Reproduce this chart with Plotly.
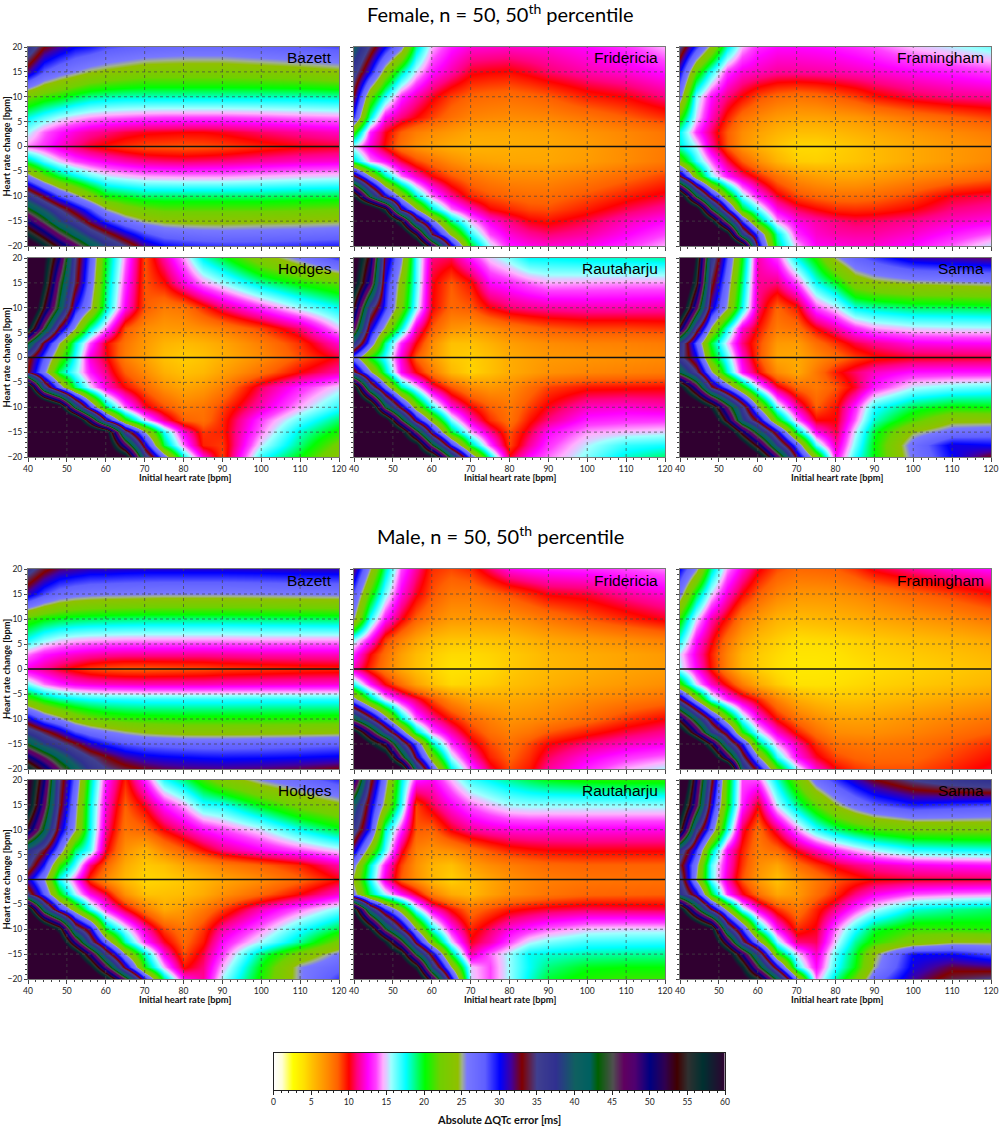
import plotly.graph_objects as go

# grid the values were read on
initial_hr = [40, 44, 48, 52, 56, 60, 65, 70, 75, 80, 85, 90, 100, 110, 120]
hr_change = [20, 15, 10, 6, 3, 0, -3, -6, -10, -12.5, -15, -17.5, -20]

x_ticks = [40, 50, 60, 70, 80, 90, 100, 110, 120]
y_ticks = [-20, -15, -10, -5, 0, 5, 10, 15, 20]

scale_values = [0, 1, 2.5, 4, 5, 7, 8.5, 10, 11, 12.5, 13.5, 14.5, 15, 15.5, 17.5, 20, 22, 24.4, 25, 25.7, 28, 30,
                31.5, 33, 35, 37.5, 40, 42, 43, 45, 46.5, 48, 50, 52, 53.5, 55, 57, 60]
scale_colors = ["#ffffff", "#ffffd8", "#ffff00", "#ffe000", "#ffc000", "#ff8c00", "#ff6000", "#ff0000", "#ff0080",
                "#ff00ff", "#ff40ff", "#ffb0ff", "#d8d0ff", "#a0ffff", "#00ffff", "#00ff00", "#70d000", "#90c000",
                "#a0b090", "#7878ff", "#6060ff", "#0000ff", "#4000a0", "#800000", "#404090", "#303090", "#106060",
                "#006060", "#006000", "#505050", "#600060", "#500070", "#000080", "#300050", "#400000", "#303030",
                "#003030", "#300030"]

female_bazett = [
    [37, 33, 31.5, 30, 29.5, 28.5, 28, 27.5, 27.2, 27, 27, 27, 27.5, 28, 28.5],
    [31.5, 28, 26.5, 25.5, 24.5, 24, 23.5, 23, 23, 23, 23, 23, 23.2, 23.5, 24],
    [22, 20.8, 20.2, 19.2, 18.5, 18.2, 18, 18, 18, 18, 18, 18, 18, 18, 18.2],
    [17.8, 16.5, 15.5, 14.8, 14.3, 14, 13.8, 13.6, 13.5, 13.5, 13.5, 13.5, 13.7, 14, 14.2],
    [15.5, 13.8, 12.8, 12, 11.4, 11, 10.5, 10.2, 10.1, 10, 10, 10.2, 10.8, 11.3, 11.8],
    [14, 13.2, 12, 11, 10.2, 9.7, 9.2, 8.8, 8.7, 8.6, 8.7, 8.9, 9.5, 10, 10.3],
    [19, 16.5, 14.8, 13.5, 12.8, 12.2, 11.6, 11.1, 10.9, 10.8, 10.9, 11, 11.4, 11.8, 12],
    [26, 22, 19.5, 17.8, 16.3, 15.3, 14.8, 14.4, 14.3, 14.2, 14.2, 14.2, 14.5, 14.8, 15],
    [37, 32.5, 28.5, 25.7, 23, 20.2, 19.6, 19, 19, 19, 19, 19, 19, 19.2, 19.3],
    [43.5, 39, 35, 31.5, 28.5, 25, 23, 22, 21.5, 21.5, 21.5, 21.5, 21.5, 21.7, 22],
    [50, 44.5, 39, 35.5, 32, 29, 26.5, 24.8, 24.2, 24, 24, 24, 24.2, 24.3, 24.5],
    [57, 51.5, 46, 41, 37, 34, 31, 28.5, 27.2, 26.8, 26.5, 26.4, 26.5, 26.7, 27],
    [64, 58, 52.5, 47.5, 42.5, 38, 35, 31.5, 30, 29.5, 29.2, 29, 29, 29.2, 29.5],
]
female_fridericia = [
    [40, 34.5, 30, 26, 18.5, 14.5, 12.8, 12, 11.9, 11.8, 11.9, 12, 12.5, 13.2, 14.5],
    [36, 30, 23.5, 18.5, 15, 12.7, 11.5, 10.2, 10, 9.9, 10.3, 10.8, 11.5, 12, 12.7],
    [32.5, 22, 17, 13, 11.5, 10.2, 9, 8.3, 8.1, 8, 8.2, 8.5, 9.5, 10, 11],
    [29, 18, 12.5, 11, 10, 9, 8, 7.3, 7.1, 7, 7.1, 7.2, 7.8, 8.5, 9.3],
    [21, 13, 10.2, 8.5, 7.5, 7, 6.5, 6, 6, 6, 6.1, 6.2, 6.7, 7.2, 7.8],
    [15, 12, 9.8, 7.8, 6.8, 6.2, 5.7, 5.5, 5.6, 5.7, 5.8, 5.9, 6.3, 7, 7.6],
    [18.5, 14.2, 12.7, 10.5, 9, 8, 7, 6.3, 6.1, 6, 6, 6, 6.4, 7, 7.7],
    [33.5, 25, 18.5, 14, 11.8, 10, 8.7, 7.8, 7.3, 7, 7, 7, 7.5, 8.2, 9],
    [58, 42, 31, 24, 18, 14, 11.3, 9.4, 8.7, 8.3, 8.1, 8.1, 8.8, 9.6, 10.3],
    [68, 64, 55, 32, 25, 18.3, 14, 11.8, 10, 9.4, 8.9, 8.8, 9.6, 10.6, 11.4],
    [72, 68, 65, 54, 35, 26.5, 18.7, 14.5, 12.2, 11, 10.1, 9.8, 10.6, 11.7, 12.5],
    [78, 73, 70, 65, 53, 33, 24, 17, 13.5, 12, 11.3, 10.9, 11.4, 12.4, 13.5],
    [85, 80, 75, 70, 65, 50, 31.5, 20, 15.3, 12.8, 12.3, 12, 12.3, 13.2, 14.5],
]
female_framingham = [
    [35, 29, 24, 18, 14.5, 13, 12.5, 12.5, 12.6, 12.8, 13.1, 13.5, 14.6, 15.3, 16],
    [30, 21.5, 17, 13.2, 12, 11.7, 11.3, 11.3, 11.4, 11.5, 11.7, 11.9, 12.4, 12.8, 13.3],
    [26, 16, 12.6, 11, 9.9, 8.8, 8.1, 7.8, 8, 8.5, 9, 9.7, 10.5, 11, 11.2],
    [21, 15, 11.8, 9.6, 8, 7.2, 6.5, 6.2, 6.2, 6.4, 6.6, 7, 7.8, 8.4, 9],
    [17.5, 13.3, 10.8, 8.6, 7, 6.2, 5.5, 5.1, 5.1, 5.3, 5.6, 5.9, 6.5, 7.1, 7.6],
    [18, 15.5, 11.5, 8.7, 6.8, 5.7, 4.8, 4.2, 4.2, 4.5, 4.8, 5.2, 5.9, 6.5, 7],
    [22, 17, 13.8, 10.7, 8.6, 7, 5.5, 4.6, 4.5, 4.7, 4.9, 5.2, 5.9, 6.5, 7.1],
    [33, 22.5, 16, 12.9, 11, 9.5, 7.9, 6.8, 6.3, 6, 6, 6.3, 7, 7.6, 8.2],
    [62, 43, 31, 22, 16, 12.8, 10.3, 8.9, 8.3, 8, 8, 8.2, 9, 10.2, 10.6],
    [68, 62, 44, 30.5, 20, 16.2, 12.2, 10.7, 10, 9.4, 9.3, 9.4, 10, 11, 11.4],
    [75, 68, 59, 43, 29, 20, 14.3, 12.2, 11.5, 11, 10.7, 10.8, 11.2, 11.8, 12.2],
    [80, 75, 70, 60, 38, 28, 18, 13.1, 11.9, 11.5, 11.4, 11.4, 11.9, 12.8, 13.7],
    [85, 80, 75, 70, 60, 31, 19, 14.5, 12.4, 12.2, 12, 12, 12.6, 13.8, 15.3],
]
female_hodges = [
    [75, 60, 50, 35, 28, 19.7, 14, 8.8, 11.4, 14.3, 17.8, 19.5, 23.2, 26, 29],
    [72, 58, 45, 34, 27, 19, 13.2, 8.7, 9.8, 12.2, 14.2, 15.5, 18.4, 20.3, 21.7],
    [68, 53, 42, 30, 25.3, 18.3, 12.4, 8.6, 7.5, 7.8, 9.3, 10.8, 13.1, 15.5, 17.5],
    [59, 44, 32.5, 25, 18.3, 14, 8.8, 7, 6.5, 6.6, 7, 7.5, 9, 11, 14.8],
    [43, 32, 25, 18, 13.5, 10, 7.8, 6.5, 5.5, 5.2, 5.5, 6, 7.5, 9.3, 12],
    [34, 28, 22, 17, 12, 10.2, 7.5, 6.2, 5, 4.6, 4.9, 5.6, 7, 8.8, 10.3],
    [33, 26, 19, 16, 12.8, 11, 8.5, 7, 5.6, 5, 5.3, 6.2, 8, 10, 11.5],
    [62, 37, 27, 19, 15, 12, 9.9, 8.3, 6.8, 6, 6.5, 7.5, 10.7, 13, 15],
    [75, 70, 62, 42, 29, 19, 13.8, 10.3, 8.8, 7.5, 7.8, 9, 11.7, 14.5, 17],
    [80, 75, 70, 65, 50, 32, 21, 15, 11.2, 8.5, 8, 9.4, 13.4, 16.4, 19],
    [85, 80, 75, 70, 65, 61, 36, 25, 17.3, 12.1, 9.2, 9.5, 14, 18, 20.5],
    [88, 82, 78, 72, 68, 64, 48, 31, 19.3, 13.8, 9.5, 9.1, 15.2, 18.8, 22.5],
    [90, 85, 80, 75, 70, 65, 61, 37, 27, 17.5, 12.2, 9, 17, 20, 24],
]
female_rautaharju = [
    [62, 52, 32, 25.8, 16.7, 11, 10.6, 12.8, 14.8, 16, 17.5, 17.6, 17.9, 18, 18.3],
    [60, 48, 30, 23.6, 16.6, 10.2, 8.6, 9.8, 12.5, 13.1, 13.8, 14.4, 14.3, 14.2, 14.2],
    [53, 36, 29, 22.5, 15.8, 10, 8.2, 8.6, 10, 10.8, 11.1, 11.3, 11.5, 11.5, 11.4],
    [47, 31, 24.5, 18, 11.8, 8.6, 6.8, 6.5, 7, 7.7, 8.2, 8.6, 9, 9, 9.2],
    [38, 27.5, 18.5, 13, 10, 7, 5, 5, 5.6, 6.3, 6.7, 7, 7.3, 7.4, 7.6],
    [27, 20, 16.8, 12, 8.5, 6.5, 4.8, 4.5, 5, 5.8, 6.2, 6.5, 6.7, 6.9, 7.1],
    [34, 25.5, 18.5, 12.5, 10, 7.7, 5.3, 4.4, 5, 5.8, 6.3, 6.8, 7.2, 7.4, 7.6],
    [60, 37, 27, 18.5, 15, 11, 8.7, 7.1, 6.6, 7, 8, 9, 9.7, 9.8, 9.9],
    [70, 63, 43, 32, 23, 17, 12.3, 10, 8.5, 7.7, 9, 10.2, 11.8, 12, 11.7],
    [75, 68, 62, 45, 31.5, 23.5, 16, 11.8, 9.3, 7.9, 9.7, 11, 12.9, 13.2, 13.3],
    [80, 75, 70, 60, 46, 31, 19.8, 14.5, 11.3, 8.8, 10.5, 12.5, 14.3, 14.7, 15],
    [82, 78, 72, 66, 60, 44, 29.5, 19, 13.4, 9, 11.3, 13.2, 15.3, 16.9, 17.3],
    [85, 80, 75, 70, 65, 60, 42, 27.5, 18, 10.3, 12.6, 13.9, 15.9, 18, 19],
]
female_sarma = [
    [75, 58, 37, 28.5, 20, 11.5, 13.2, 17.7, 20.5, 25, 27.5, 28.8, 31, 31.5, 32],
    [70, 55, 34, 26.5, 18.7, 11.3, 11, 13.5, 17.4, 19.7, 23, 24, 24.7, 25, 25.3],
    [64, 47, 31, 25, 17.5, 11, 8.3, 9.6, 13.4, 15, 17.6, 18.2, 18.9, 19, 19.2],
    [52, 35, 24.7, 17.5, 12, 9.8, 7.6, 8, 10, 11.5, 13.2, 14.3, 15, 15.2, 15.3],
    [37, 28, 19.5, 14.8, 11, 9, 6.5, 6.4, 8, 9.3, 10.5, 11.2, 12.2, 12.4, 12.5],
    [36, 30.5, 21, 16.5, 12, 8.9, 6, 5.9, 7, 8, 9, 9.7, 10.2, 10.3, 10.4],
    [42, 35, 25.5, 18, 12.8, 10, 7, 5.9, 7.7, 9.7, 10.8, 11.8, 12.7, 12.8, 12.8],
    [60, 48, 34, 27.5, 21, 15, 10.4, 8.2, 7.6, 8.7, 10.3, 12.8, 15.3, 16, 16.4],
    [70, 65, 58, 46, 36, 25, 16, 11.4, 8.5, 9.8, 13, 17, 19.3, 20.2, 20],
    [75, 70, 64, 52, 39, 32, 21, 14, 10, 10, 13.8, 18, 21.2, 24, 24],
    [80, 75, 70, 64, 52, 41.5, 31, 19, 12.5, 10.5, 15.2, 19.5, 24.5, 26.5, 27],
    [85, 80, 75, 70, 62, 52, 38, 27.5, 16.5, 11.5, 16, 20, 26.5, 30.5, 30],
    [90, 85, 80, 75, 70, 62, 48, 32, 23, 12.5, 17, 20, 26, 30, 33],
]
male_bazett = [
    [36, 33.5, 32, 31.5, 31, 31, 30.8, 30.7, 30.7, 30.7, 30.7, 30.7, 30.8, 31, 31],
    [31, 28.5, 27, 26.3, 26, 25.8, 25.7, 25.6, 25.5, 25.5, 25.5, 25.5, 25.6, 25.7, 25.8],
    [21, 20, 19.5, 19.2, 19, 18.9, 18.8, 18.7, 18.7, 18.7, 18.7, 18.7, 18.8, 18.9, 19],
    [17.5, 16, 15.2, 14.8, 14.6, 14.5, 14.4, 14.4, 14.4, 14.4, 14.4, 14.4, 14.5, 14.5, 14.5],
    [14, 12.8, 12.3, 11.9, 11.6, 11.4, 11.3, 11.3, 11.3, 11.3, 11.3, 11.4, 11.6, 11.7, 11.8],
    [12, 11.2, 10.3, 9.6, 9, 8.7, 8.5, 8.5, 8.6, 8.7, 8.8, 9, 9.2, 9.4, 9.5],
    [16, 14, 13, 12.3, 12, 11.8, 11.7, 11.6, 11.6, 11.6, 11.6, 11.7, 11.8, 11.9, 12],
    [21.5, 19.5, 18.3, 17.7, 17.3, 17.1, 17, 16.9, 16.9, 16.9, 16.9, 16.9, 17, 17, 17],
    [31, 27.5, 25.7, 23.5, 22.3, 21.5, 21, 20.8, 20.7, 20.6, 20.6, 20.6, 20.6, 20.7, 20.8],
    [37, 34, 31.5, 28.5, 27, 26, 25, 24.3, 24, 23.8, 23.8, 23.8, 23.9, 24, 24.2],
    [43, 38.5, 36, 33.5, 31, 29.5, 28.3, 27.7, 27.5, 27.3, 27.2, 27.2, 27.3, 27.5, 27.8],
    [51, 46, 41.5, 37.5, 35, 33.2, 31.5, 30.6, 30.2, 30, 29.8, 29.7, 29.8, 30, 30.3],
    [58, 52, 46, 41, 37, 35, 33.8, 32.8, 32.3, 32, 31.9, 31.8, 32, 32.4, 33],
]
male_fridericia = [
    [32, 25, 18.5, 13.5, 11.3, 9.3, 8.9, 9.4, 10.8, 12.2, 12.6, 12.8, 13, 13.5, 14],
    [28, 21, 16, 12.2, 10.2, 8.7, 7.7, 7.7, 8.2, 8.8, 9.4, 10.1, 10.4, 11.3, 12],
    [25, 17, 12.7, 10.2, 8.4, 7.3, 6.5, 6.5, 6.6, 6.8, 7.2, 7.7, 8.6, 9.4, 10.2],
    [16, 12.8, 9.2, 7.5, 6.2, 5.3, 4.9, 4.9, 5, 5.2, 5.6, 6, 6.5, 7, 7.5],
    [13, 10, 8, 6.3, 5.2, 4.6, 4.2, 4.2, 4.4, 4.7, 5, 5.4, 5.8, 6.1, 6.5],
    [11.5, 9.3, 7.6, 6, 5, 4.4, 3.9, 4, 4.2, 4.7, 5, 5.3, 5.7, 6.1, 6.4],
    [17, 12.8, 10, 8, 6.2, 5, 4.2, 4.4, 4.6, 5, 5.3, 5.6, 6.1, 6.5, 6.9],
    [26, 19.3, 14.8, 12.3, 10.6, 8.8, 7, 6, 5.9, 5.9, 6.1, 6.4, 7, 7.5, 8],
    [43, 35, 27, 18.5, 13.8, 11.5, 9.7, 8.2, 7.4, 6.8, 7, 7.3, 8.1, 9.2, 10],
    [60, 48, 37, 27.5, 18.6, 14, 11.5, 9.3, 8, 7.4, 7.8, 8.6, 9.6, 10.5, 11.2],
    [70, 59, 52, 37, 28, 18.5, 13.3, 10.5, 8.9, 8, 8.9, 10, 11, 11.8, 12.3],
    [75, 68, 62, 46, 32, 23, 15.5, 11.8, 9.5, 8.4, 9.3, 10.7, 12.2, 13.2, 13.9],
    [80, 75, 70, 62, 40, 28, 18, 13.5, 10.5, 8.9, 9.7, 11.3, 13, 14.5, 15.5],
]
male_framingham = [
    [30, 25.5, 18.5, 14.2, 12, 10.2, 8.8, 8.2, 8.3, 8.5, 9.2, 10.2, 11.2, 12, 12.5],
    [26, 19.5, 15, 12, 10, 8.5, 7.3, 6.7, 6.7, 6.8, 7.1, 7.5, 8.3, 9, 9.8],
    [20.5, 15, 11.5, 9.7, 7.6, 6.5, 5.5, 5.2, 5.3, 5.5, 5.7, 6, 6.5, 7, 7.7],
    [17.5, 12.7, 10.3, 8, 6.3, 5.2, 4.6, 4.1, 4.2, 4.3, 4.5, 4.7, 5.1, 5.5, 6],
    [15, 12, 9.6, 7.3, 5.5, 4.7, 4.2, 3.8, 3.8, 3.9, 4.2, 4.4, 4.7, 5, 5.4],
    [15.5, 12.5, 9.8, 7.3, 5.4, 4.6, 4, 3.6, 3.6, 3.7, 3.9, 4.1, 4.4, 4.7, 5],
    [21, 15, 11.8, 9.7, 7.5, 5.8, 4.6, 3.9, 3.9, 4, 4.2, 4.4, 4.7, 5, 5.4],
    [33, 24, 16.5, 13, 11, 9.5, 7.3, 5.8, 5.2, 4.9, 4.9, 5.1, 5.5, 6, 6.5],
    [52, 41, 31.5, 23, 16.5, 12.5, 9.8, 8, 7, 6.3, 6.2, 6.3, 6.8, 7.3, 7.8],
    [62, 50, 38, 31, 20.5, 15.5, 11.9, 9.6, 8, 7, 6.9, 6.9, 7.3, 7.9, 8.5],
    [75, 65, 53, 38, 30, 19.5, 14.3, 11.5, 9.3, 8, 7.8, 7.7, 8, 8.6, 9.3],
    [80, 72, 63, 49, 35, 25.5, 17, 12.5, 10.3, 8.9, 8.4, 8.2, 8.3, 9, 9.8],
    [85, 80, 75, 68, 40, 31.5, 21.5, 15.5, 12, 10, 9.2, 8.8, 8.8, 9.5, 10.3],
]
male_hodges = [
    [62, 50, 35, 27.5, 18.7, 12.8, 9.5, 13, 17, 18.8, 21, 23, 25.5, 27, 29],
    [60, 47, 34, 26, 17.8, 12, 8.5, 10.3, 12.8, 14.5, 16.9, 17.3, 20, 22.5, 24],
    [52, 42, 31.5, 25, 17.5, 11.2, 7.8, 8.3, 10, 11.3, 12.6, 13.4, 15, 17.5, 19.5],
    [38, 33.5, 27, 19, 16.5, 10.2, 6.8, 5.5, 7.2, 8.5, 9.8, 11, 12.4, 13.6, 15],
    [35.5, 29.5, 21, 16.5, 11, 8.3, 5.8, 4.7, 5, 6, 6.7, 7.5, 8.4, 9.5, 11.5],
    [31, 25.5, 17.3, 13.5, 9.2, 7, 5.2, 4.3, 4.5, 4.8, 5.4, 6, 7, 8.3, 10],
    [35, 28, 20.5, 15.5, 12.3, 10.3, 6.8, 4.9, 5, 5.2, 5.8, 6.8, 8.3, 10, 12],
    [60, 40, 29.5, 23, 17, 13, 10.2, 7.7, 5.8, 6.5, 7.6, 9, 11.7, 13.8, 16],
    [75, 65, 57, 37, 31, 19.5, 15.5, 11.7, 9, 7.7, 9.2, 11.4, 14, 17, 19.5],
    [80, 72, 64, 49, 36, 27, 18.2, 13.2, 10.3, 8.2, 9.7, 12.5, 15.5, 18.5, 22.5],
    [85, 78, 70, 62, 50, 36, 25, 18, 12.2, 8.8, 10.5, 13.3, 18.8, 22.7, 26],
    [87, 82, 75, 68, 60, 47, 32, 20, 14.5, 9.8, 11, 14.5, 20, 25.5, 27.5],
    [90, 85, 80, 75, 68, 60, 46, 30, 18.8, 12.5, 11.3, 15.5, 20.5, 25.5, 29],
]
male_rautaharju = [
    [50, 34, 26, 18, 12.8, 12.3, 14.5, 16.8, 17.6, 18.5, 19.2, 19.8, 20.3, 20.5, 20.5],
    [40, 31, 24, 17, 9, 10.6, 12.3, 13.8, 14.7, 15.5, 15.7, 15.7, 15.7, 15.7, 15.7],
    [36, 29, 18, 13, 8.6, 8.3, 10.1, 11.2, 11.7, 12, 12.1, 12.1, 12.2, 12.2, 12.2],
    [31, 23, 16.5, 10.5, 7.4, 6.7, 7, 8, 8.8, 9.5, 9.8, 10, 10.1, 10.1, 10.1],
    [26, 18, 12.8, 9, 6.8, 5.5, 5, 6.3, 7, 7.5, 7.9, 8.2, 8.4, 8.4, 8.4],
    [24, 17.3, 12, 8.5, 6.8, 5.3, 4.5, 5.2, 6, 6.8, 7.2, 7.5, 7.8, 7.9, 8],
    [26, 19, 15.5, 12.6, 10.3, 7.5, 5.8, 5.3, 6.2, 7, 7.4, 7.8, 8.3, 8.4, 8.5],
    [57, 38, 29, 23, 16, 12, 9.8, 8, 8.8, 9.7, 10.1, 10.4, 10.7, 10.6, 10.5],
    [68, 58, 44, 34, 25, 17.5, 12.7, 9.5, 10.8, 12.2, 13, 13.8, 14.8, 15, 15],
    [75, 68, 58, 46, 32, 22.5, 15, 10.2, 11.5, 13.5, 15.2, 16, 16.8, 16.9, 17],
    [80, 75, 65, 58, 43, 31.5, 19.5, 11.5, 13.8, 15.7, 17.6, 17.9, 18.3, 18.5, 18.6],
    [85, 80, 72, 66, 57, 38, 25, 14.8, 13.5, 15.7, 17.5, 18.8, 19.8, 20, 20],
    [90, 85, 75, 70, 65, 50, 31, 15, 13.5, 15.7, 17.8, 19.5, 20.5, 21, 21],
]
male_sarma = [
    [68, 50, 34, 21, 13.5, 13.5, 17.8, 22, 26.5, 29, 31, 32.8, 35, 36.5, 37.5],
    [62, 47, 31, 20.5, 13, 10, 15.3, 18.7, 21.5, 24.5, 26.5, 28, 29.5, 29, 28.5],
    [55, 36, 27, 17.5, 10.5, 8, 10.7, 14, 16.8, 18.7, 20, 21, 22, 22.2, 22.3],
    [37, 29, 19, 12.5, 9.6, 7.5, 8.2, 10.2, 11.7, 13.2, 14.4, 15.5, 17, 17.3, 17.5],
    [34, 26, 16.5, 12.2, 9.2, 7, 6, 8, 9.2, 10.3, 11, 11.5, 12.2, 12.5, 12.7],
    [36, 25, 16.5, 11.7, 8.7, 6.5, 5, 6.5, 7.6, 8.7, 9.4, 10, 10.3, 10.4, 10.5],
    [38, 31, 20, 13.3, 10.3, 8, 6, 6.5, 8, 9.4, 11, 12.3, 13.6, 14, 14.2],
    [60, 45, 33, 24, 16, 12, 9.3, 7.7, 9.5, 11.2, 13.3, 15.2, 17.8, 18.5, 19],
    [72, 66, 60, 38, 29, 18.5, 12.7, 9.4, 10.2, 14, 17, 19.5, 21, 20.8, 20.5],
    [78, 70, 65, 50, 35, 26, 16, 11, 10.7, 15, 18.5, 20.7, 23, 24.5, 24.5],
    [82, 76, 70, 62, 50, 37, 21, 15, 11.8, 16.5, 19.5, 24.3, 30, 30, 28.5],
    [85, 80, 74, 66, 58, 45, 31, 17, 12.5, 17, 20, 25, 30.5, 32.5, 32],
    [90, 85, 80, 70, 62, 56, 42, 26, 14, 18.5, 22, 27, 31.5, 34, 35],
]

panels = [
    ("Bazett", female_bazett), ("Fridericia", female_fridericia), ("Framingham", female_framingham),
    ("Hodges", female_hodges), ("Rautaharju", female_rautaharju), ("Sarma", female_sarma),
    ("Bazett", male_bazett), ("Fridericia", male_fridericia), ("Framingham", male_framingham),
    ("Hodges", male_hodges), ("Rautaharju", male_rautaharju), ("Sarma", male_sarma),
]

W, H = 1000, 1128
col_px = [(28, 339), (354, 665), (680, 991)]
row_px = [(47, 246), (258, 457), (569, 769), (780, 979)]
label_font = "Lato, 'Open Sans', sans-serif"
tick_font = dict(family=label_font, size=8.5, color="#222222")
title_font = dict(family=label_font, size=9.3, color="#111111")
grid_color = "rgba(70,70,70,0.7)"
colorscale = [[v / 60, c] for v, c in zip(scale_values, scale_colors)]


def dom_x(a, b):
    return [a / W, b / W]


def dom_y(a, b):
    return [1 - b / H, 1 - a / H]


def paper_text(text, px_x, px_y, font, angle=0):
    return dict(text=text, xref="paper", yref="paper", x=px_x / W, y=1 - px_y / H, xanchor="center",
                yanchor="middle", showarrow=False, font=font, textangle=angle)


fig = go.Figure()
shapes = []
annotations = []

for i, (name, z) in enumerate(panels):
    n = "" if i == 0 else str(i + 1)
    row, col = i // 3, i % 3
    fig.add_trace(go.Heatmap(
        x=initial_hr, y=hr_change, z=z, zmin=0, zmax=60, zsmooth="best",
        colorscale=colorscale, showscale=False, xaxis=f"x{n}", yaxis=f"y{n}",
    ))
    xaxis = dict(
        domain=dom_x(*col_px[col]), range=[40, 120], anchor=f"y{n}", tickvals=x_ticks, automargin=False,
        ticks="outside", ticklen=4, tickwidth=1, tickcolor="#444444", showgrid=False, zeroline=False,
        showline=True, mirror=True, linecolor="#777777", linewidth=1, tickfont=tick_font,
        minor=dict(dtick=2, ticks="outside", ticklen=2, tickcolor="#444444"),
        showticklabels=row in (1, 3),
    )
    yaxis = dict(
        domain=dom_y(*row_px[row]), range=[-20, 20], anchor=f"x{n}", tickvals=y_ticks, automargin=False,
        ticks="outside", ticklen=3, tickwidth=1, tickcolor="#444444", showgrid=False, zeroline=False,
        showline=True, mirror=True, linecolor="#777777", linewidth=1, tickfont=tick_font,
        minor=dict(dtick=1, ticks="outside", ticklen=2, tickcolor="#444444"),
        showticklabels=col == 0,
    )
    fig.update_layout(**{f"xaxis{n}": xaxis, f"yaxis{n}": yaxis})

    if row in (1, 3):
        annotations.append(paper_text("<b>Initial heart rate [bpm]</b>", sum(col_px[col]) / 2 + 1,
                                      row_px[row][1] + 20, title_font))
    if col == 0:
        annotations.append(paper_text("<b>Heart rate change [bpm]</b>", 6, sum(row_px[row]) / 2, title_font, -90))

    # gridlines and the zero line have to sit on top of the heatmap
    for t in x_ticks[1:-1]:
        shapes.append(dict(type="line", xref=f"x{n}", yref=f"y{n} domain", x0=t, x1=t, y0=0, y1=1,
                           line=dict(color=grid_color, width=1, dash="dot")))
    for t in y_ticks[1:-1]:
        if t == 0:
            shapes.append(dict(type="line", xref=f"x{n} domain", yref=f"y{n}", x0=0, x1=1, y0=0, y1=0,
                               line=dict(color="#111111", width=1.6)))
        else:
            shapes.append(dict(type="line", xref=f"x{n} domain", yref=f"y{n}", x0=0, x1=1, y0=t, y1=t,
                               line=dict(color=grid_color, width=1, dash="dot")))
    annotations.append(dict(text=name, xref=f"x{n} domain", yref=f"y{n} domain", x=0.985, y=0.945,
                            xanchor="right", yanchor="middle", showarrow=False,
                            font=dict(family="Liberation Sans", size=15.5, color="#000000")))

# colour key drawn as a ramp on its own axis
fig.add_trace(go.Heatmap(
    x=scale_values, y=[0, 1], z=[scale_values, scale_values], zmin=0, zmax=60, zsmooth="best",
    colorscale=colorscale, showscale=False, xaxis="x13", yaxis="y13",
))
fig.update_layout(
    xaxis13=dict(domain=dom_x(273.5, 725), range=[0, 60], anchor="y13", tickvals=list(range(0, 61, 5)),
                 ticks="outside", ticklen=4, tickcolor="#222222", showgrid=False, zeroline=False, showline=True,
                 mirror=True, linecolor="#222222", tickfont=tick_font, automargin=False,
                 minor=dict(dtick=1, ticks="outside", ticklen=2, tickcolor="#222222")),
    yaxis13=dict(domain=dom_y(1053, 1090), range=[0, 1], anchor="x13", showticklabels=False, ticks="",
                 showgrid=False, zeroline=False, showline=True, mirror=True, linecolor="#222222", automargin=False),
)
annotations.append(paper_text("<b>Absolute \u0394QTc error [ms]</b>", 499, 1119,
                              dict(family=label_font, size=11, color="#111111")))

for text, px in (("Female, n = 50, 50<sup>th</sup> percentile", 13), ("Male, n = 50, 50<sup>th</sup> percentile", 535)):
    annotations.append(paper_text(text, 500, px, dict(family=label_font, size=20, color="#000000")))

fig.update_layout(width=W, height=H, margin=dict(l=0, r=0, t=0, b=0), paper_bgcolor="white", plot_bgcolor="white",
                  showlegend=False, shapes=shapes, annotations=annotations)
fig.write_html("out.html", config={"displayModeBar": False}, post_script="document.body.style.margin='0';")
